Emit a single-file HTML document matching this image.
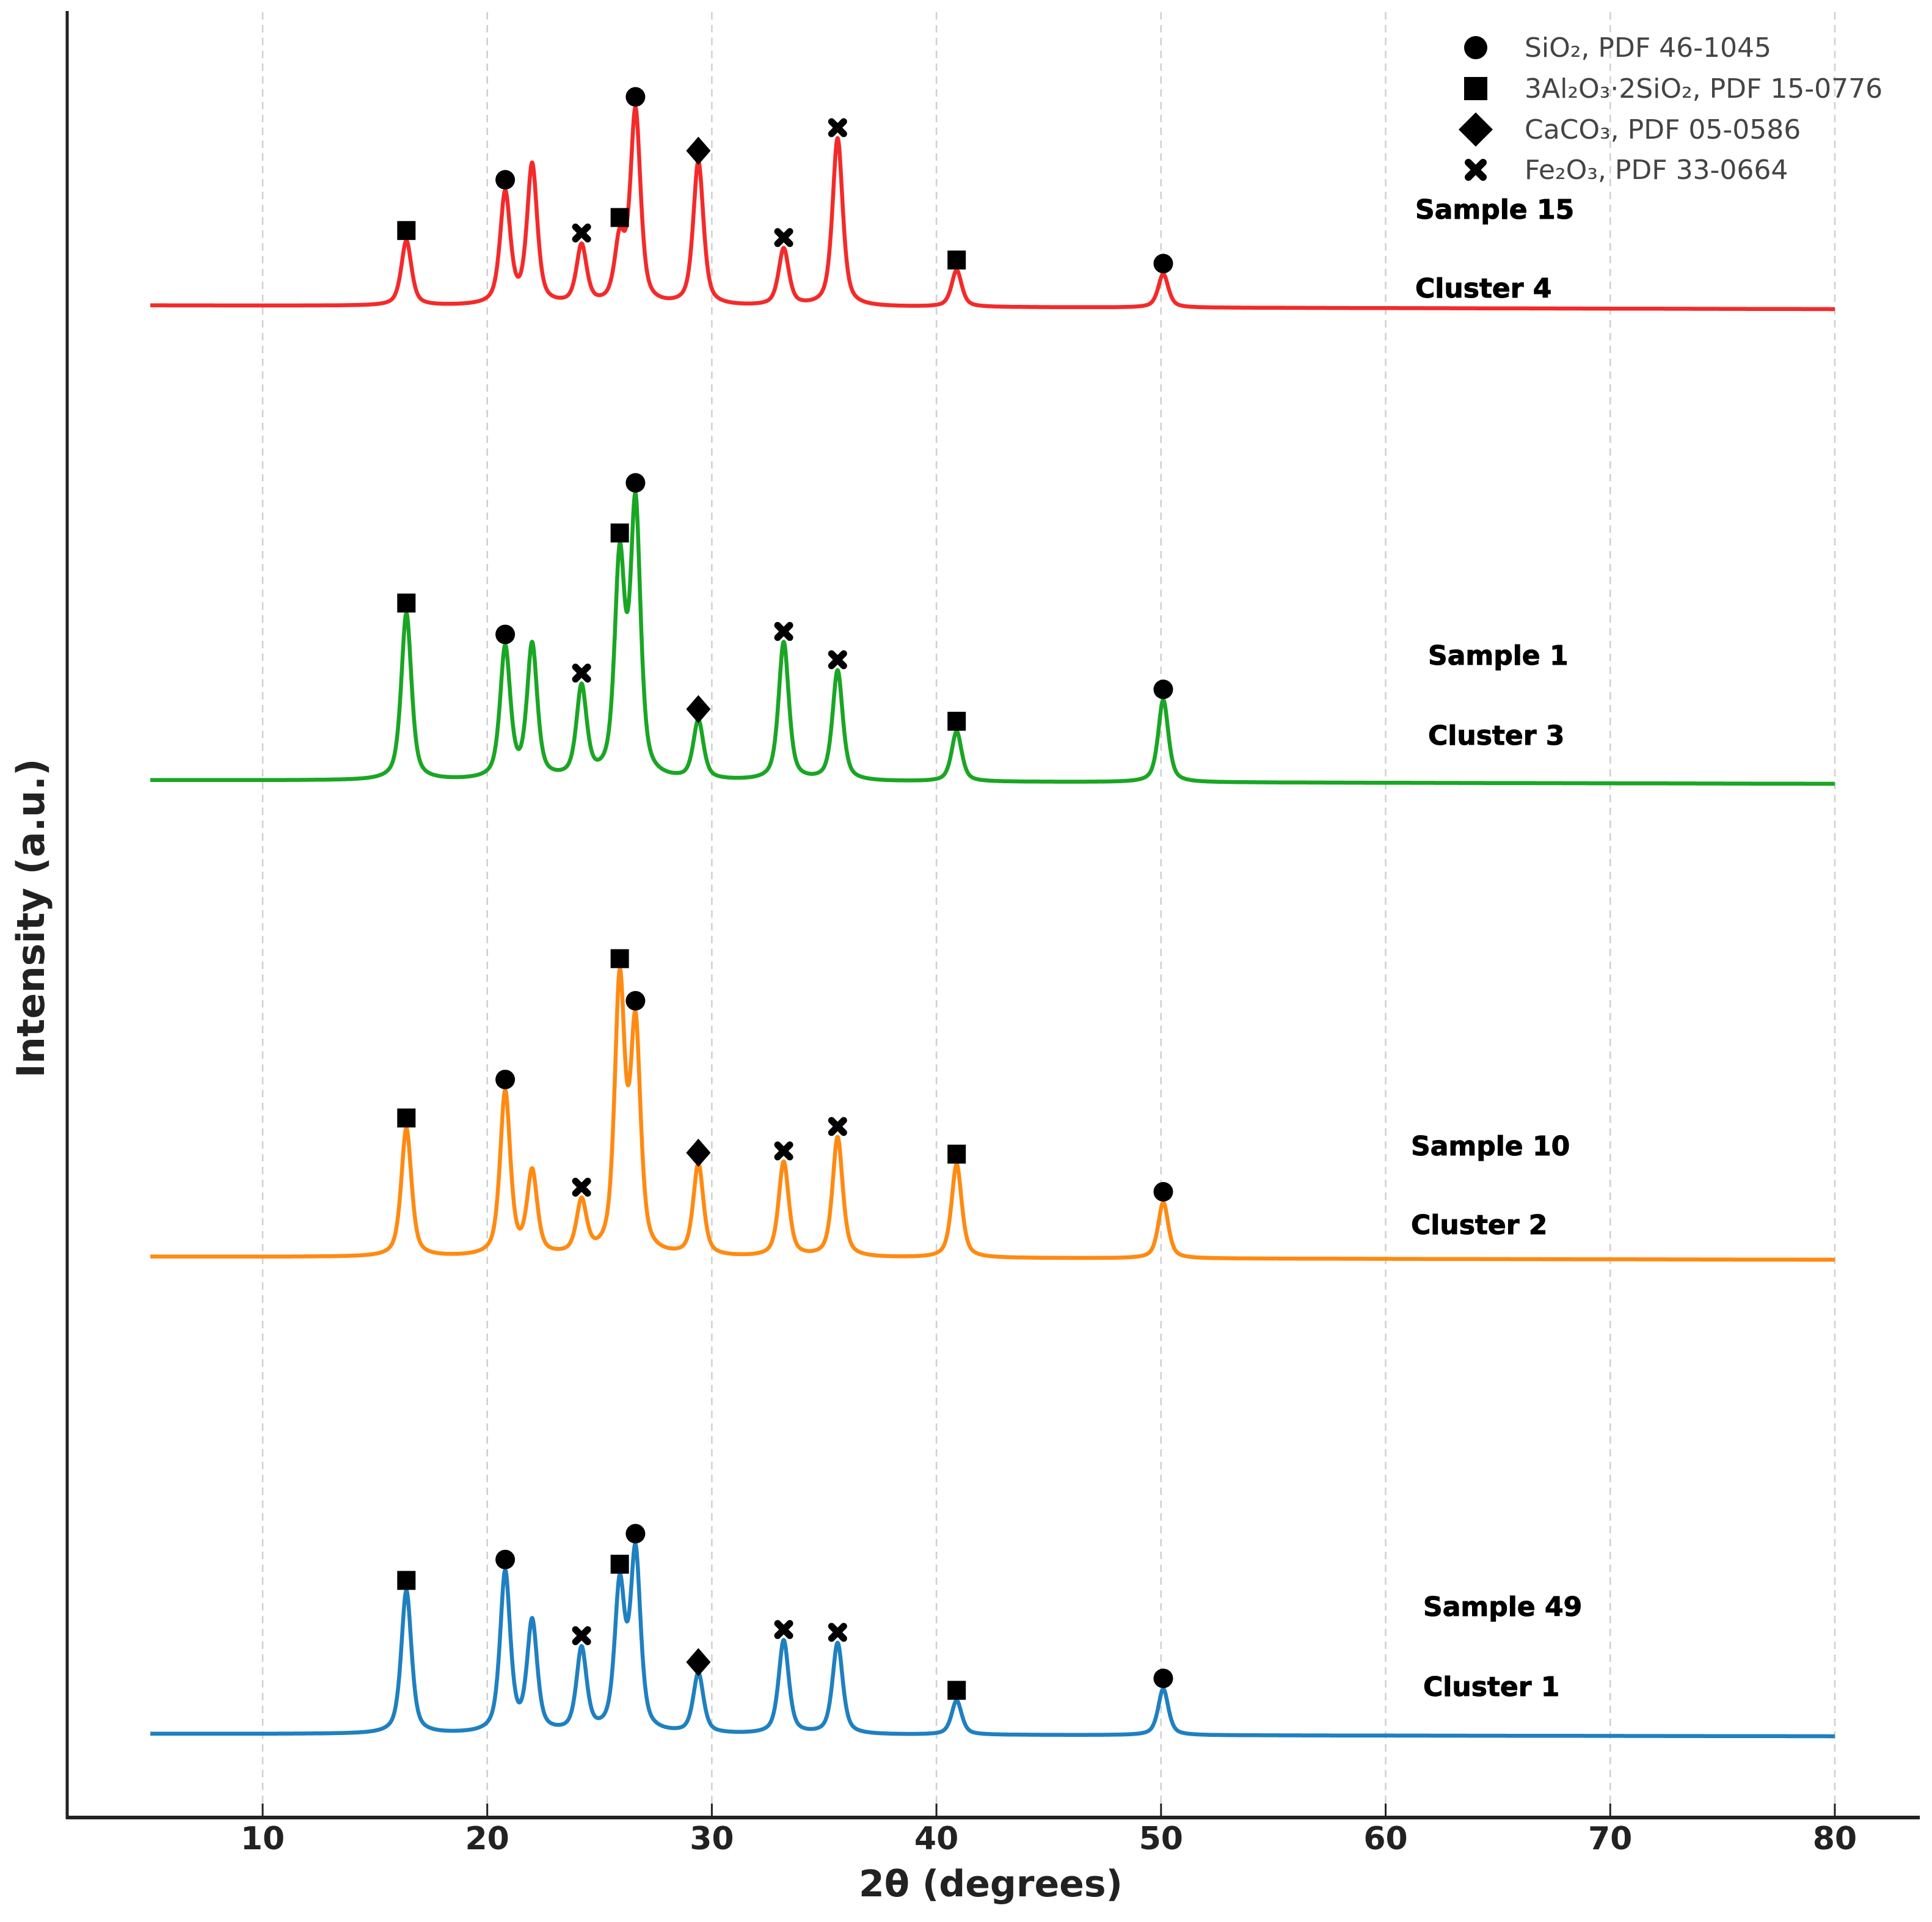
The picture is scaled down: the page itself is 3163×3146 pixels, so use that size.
<!DOCTYPE html>
<html><head><meta charset="utf-8"><style>
html,body{margin:0;padding:0;background:#fff;}
svg{display:block;}
</style></head><body>
<svg id="chart" width="3163" height="3146" viewBox="0 0 3163 3146" xmlns="http://www.w3.org/2000/svg">
<g id="grid"></g>
<g id="series"></g>
<g id="markers"></g>
<line x1="110" y1="18" x2="110" y2="2977" stroke="#222" stroke-width="5"/>
<line x1="108" y1="2975" x2="3143" y2="2975" stroke="#222" stroke-width="6"/>
<g id="ticks"></g>
<text x="1622" y="3104" text-anchor="middle" font-family="DejaVu Sans, Liberation Sans, sans-serif" font-weight="bold" font-size="60" fill="#222">2θ (degrees)</text>
<text transform="translate(72,1503) rotate(-90)" text-anchor="middle" font-family="DejaVu Sans, Liberation Sans, sans-serif" font-weight="bold" font-size="62" fill="#222">Intensity (a.u.)</text>
<g font-family="DejaVu Sans, Liberation Sans, sans-serif" font-size="44" fill="#444">
  <circle cx="2416" cy="78" r="19" fill="#000"/>
  <text x="2496" y="93">SiO₂, PDF 46-1045</text>
  <rect x="2397" y="126" width="38" height="38" fill="#000"/>
  <text x="2496" y="160">3Al₂O₃·2SiO₂, PDF 15-0776</text>
  <polygon points="2416,184 2444,212 2416,240 2388,212" fill="#000"/>
  <text x="2496" y="227">CaCO₃, PDF 05-0586</text>
  <path d="M2404,266L2428,290M2428,266L2404,290" stroke="#000" stroke-width="12" stroke-linecap="round"/>
  <text x="2496" y="293">Fe₂O₃, PDF 33-0664</text>
</g>
<g font-family="DejaVu Sans, Liberation Sans, sans-serif" font-weight="bold" font-size="44" fill="#000" stroke="#000" stroke-width="1">
  <text x="2317" y="358">Sample 15</text>
  <text x="2317" y="487">Cluster 4</text>
  <text x="2338" y="1088">Sample 1</text>
  <text x="2338" y="1219">Cluster 3</text>
  <text x="2310" y="1891">Sample 10</text>
  <text x="2310" y="2020">Cluster 2</text>
  <text x="2330" y="2645">Sample 49</text>
  <text x="2330" y="2776">Cluster 1</text>
</g>
</svg>
<script>
// Data
const peakPositions = [16.4, 20.8, 22.0, 24.2, 25.9, 26.6, 29.4, 33.2, 35.6, 40.9, 50.1];
const peakPhases = ['square','circle','none','cross','square','circle','diamond','cross','cross','square','circle'];
const seriesNames = ['sample-15','sample-1','sample-10','sample-49'];
const seriesColors = ['#f42a2a','#1aa624','#ff8a12','#1f80c0'];
const baselineStart = [2475, 1698, 918, 137];
const baselineEnd = [2469, 1692, 913, 133];
const heights15 = [106,182,228,96,100,315,235,93,275,60,55];
const heights1 = [273,214,218,148,350,440,96,226,180,82,135];
const heights10 = [210,268,135,86,440,365,150,155,196,153,92];
const heights49 = [234,262,180,136,235,290,98,153,149,56,76];
const xTicks = [10,20,30,40,50,60,70,80];

const allHeights = [heights15, heights1, heights10, heights49];
const NS = 'http://www.w3.org/2000/svg';
const xScale = v => 430 + (v - 10) * 36.77;
const yScale = v => 2975 - v;
const HW = 0.27, ETA = 0.6;
function profile(d){ const r=d/HW; return ETA/(1+r*r) + (1-ETA)*Math.exp(-0.693*r*r); }
function intensity(s, t){
  const h = allHeights[s];
  let v = baselineStart[s] + (baselineEnd[s]-baselineStart[s])*(t-5)/75;
  for (let i=0;i<peakPositions.length;i++) v += h[i]*profile(t-peakPositions[i]);
  return v;
}
const grid = document.getElementById('grid');
const ticks = document.getElementById('ticks');
xTicks.forEach(t => {
  const gl = document.createElementNS(NS,'line');
  
  
  gl.setAttribute('x1',xScale(t)); gl.setAttribute('x2',xScale(t));
  gl.setAttribute('y1',20); gl.setAttribute('y2',2972);
  gl.setAttribute('stroke','#cfcfcf'); gl.setAttribute('stroke-width','2.5'); gl.setAttribute('stroke-dasharray','12 9');
  grid.appendChild(gl);
  const tk = document.createElementNS(NS,'line');
  
  
  tk.setAttribute('x1',xScale(t)); tk.setAttribute('x2',xScale(t));
  tk.setAttribute('y1',2952); tk.setAttribute('y2',2975);
  tk.setAttribute('stroke','#222'); tk.setAttribute('stroke-width','3');
  ticks.appendChild(tk);
  const lb = document.createElementNS(NS,'text');
  
  
  lb.setAttribute('x',xScale(t)); lb.setAttribute('y',3027);
  lb.setAttribute('text-anchor','middle');
  lb.setAttribute('font-family','DejaVu Sans, Liberation Sans, sans-serif');
  lb.setAttribute('font-weight','bold'); lb.setAttribute('font-size','52'); lb.setAttribute('fill','#222');
  lb.textContent = t;
  ticks.appendChild(lb);
});
const sg = document.getElementById('series');
const mg = document.getElementById('markers');
seriesNames.forEach((name, s) => {
  let d = '';
  for (let t=5; t<=80.0001; t+=0.02){
    d += (d?'L':'M') + xScale(t).toFixed(1) + ' ' + yScale(intensity(s,t)).toFixed(1);
  }
  const p = document.createElementNS(NS,'path');
  
  
  p.setAttribute('d',d); p.setAttribute('fill','none');
  p.setAttribute('stroke',seriesColors[s]); p.setAttribute('stroke-width','6.5'); p.setAttribute('stroke-linejoin','round');
  sg.appendChild(p);
  peakPositions.forEach((pos, i) => {
    const kind = peakPhases[i];
    if (kind === 'none') return;
    const cx = xScale(pos), cy = yScale(intensity(s,pos)) - 17;
    let m;
    if (kind === 'circle'){
      m = document.createElementNS(NS,'ellipse');
      m.setAttribute('cx',cx); m.setAttribute('cy',cy); m.setAttribute('rx',16); m.setAttribute('ry',16);
    } else if (kind === 'square'){
      m = document.createElementNS(NS,'rect');
      m.setAttribute('x',cx-15); m.setAttribute('y',cy-15); m.setAttribute('width',30); m.setAttribute('height',31);
    } else if (kind === 'diamond'){
      m = document.createElementNS(NS,'polygon');
      m.setAttribute('points',`${cx},${cy-23} ${cx+20},${cy} ${cx},${cy+23} ${cx-20},${cy}`);
    } else {
      m = document.createElementNS(NS,'path');
      m.setAttribute('d',`M${cx-10},${cy-10}L${cx+10},${cy+10}M${cx+10},${cy-10}L${cx-10},${cy+10}`);
      m.setAttribute('stroke','#000'); m.setAttribute('stroke-width','11'); m.setAttribute('stroke-linecap','round');
    }
    
    
    if (kind !== 'cross') m.setAttribute('fill','#000');
    mg.appendChild(m);
  });
});
</script>
</body></html>
